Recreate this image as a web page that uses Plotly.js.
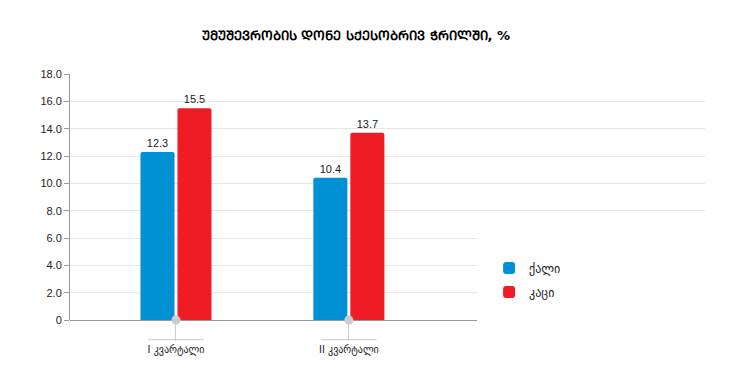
<!DOCTYPE html>
<html>
<head>
<meta charset="utf-8">
<script src="https://cdn.plot.ly/plotly-3.0.1.min.js"></script>
<style>html,body{margin:0;padding:0;background:#fff;}#chart{width:729px;height:367px;}</style>
</head>
<body>
<div id="chart"></div>
<script>
const categories = ["I კვარტალი", "II კვარტალი"];
const seriesNames = ["ქალი", "კაცი"];
const womenValues = [12.3, 10.4];
const menValues = [15.5, 13.7];
const seriesColors = ["#0091d5", "#ee1c25"];
const yTickVals = [0, 2, 4, 6, 8, 10, 12, 14, 16, 18];
const yTickText = ["0", "2.0", "4.0", "6.0", "8.0", "10.0", "12.0", "14.0", "16.0", "18.0"];
const titleText = "ᲣᲛᲣᲨᲔᲕᲠᲝᲑᲘᲡ ᲓᲝᲜᲔ ᲡᲥᲔᲡᲝᲑᲠᲘᲕ ᲭᲠᲘᲚᲨᲘ, %";

const catIdx = categories.map((c, i) => i);
const font = "Liberation Sans, Arial, DejaVu Sans, sans-serif";
const xRange = [-0.613, 3.06];
const toPaper = v => (v - xRange[0]) / (xRange[1] - xRange[0]);

const traces = [
  {type: "bar", name: seriesNames[0], legendgroup: "a", x: catIdx, y: womenValues,
   marker: {color: seriesColors[0]}, text: womenValues.map(v => v.toFixed(1)),
   textposition: "outside", cliponaxis: false,
   textfont: {family: font, size: 11, color: "#222"}, hoverinfo: "none"},
  {type: "bar", name: seriesNames[1], legendgroup: "b", x: catIdx, y: menValues,
   marker: {color: seriesColors[1]}, text: menValues.map(v => v.toFixed(1)),
   textposition: "outside", cliponaxis: false,
   textfont: {family: font, size: 11, color: "#222"}, hoverinfo: "none"},
  {type: "scatter", mode: "markers", x: catIdx, y: catIdx.map(() => 0),
   marker: {color: "#cccccc", size: 9}, cliponaxis: false, showlegend: false, hoverinfo: "none"}
];

const shapes = catIdx.map(i => ({
  type: "line", xref: "paper", yref: "paper", x0: toPaper(i - 0.16), x1: toPaper(i + 0.16),
  y0: -0.08, y1: -0.08, line: {color: "#cccccc", width: 1}
}));
shapes.push({type: "rect", xref: "paper", yref: "paper", x0: 0.641, x1: 1.05,
  y0: -0.03, y1: 0.335, fillcolor: "#ffffff", line: {width: 0}, layer: "above"});

const layout = {
  width: 729, height: 367,
  margin: {l: 70, r: 24, t: 74, b: 47},
  paper_bgcolor: "#ffffff", plot_bgcolor: "#ffffff",
  title: {text: "<b>" + titleText + "</b>", x: 356 / 729, xref: "container", xanchor: "center",
    y: 1 - 35 / 367, yref: "container", yanchor: "middle",
    font: {family: "DejaVu Sans, sans-serif", size: 13, color: "#000"}},
  barmode: "group", bargap: 0.572, bargroupgap: 0.08, barcornerradius: 2,
  xaxis: {range: xRange, tickvals: catIdx, ticktext: categories,
    showgrid: false, zeroline: false, showline: false,
    ticks: "outside", ticklen: 20, tickcolor: "#cccccc", tickwidth: 1,
    tickfont: {family: "DejaVu Sans, sans-serif", size: 10, color: "#222"}, fixedrange: true},
  yaxis: {range: [0, 18], tickvals: yTickVals, ticktext: yTickText,
    showgrid: true, gridcolor: "#e6e6e6", gridwidth: 1,
    zeroline: true, zerolinecolor: "#999999", zerolinewidth: 1,
    showline: true, linecolor: "#999999", linewidth: 1,
    ticks: "outside", ticklen: 5, tickcolor: "#999999",
    tickfont: {family: font, size: 11, color: "#222"}, fixedrange: true},
  legend: {x: 0.66, xanchor: "left", y: 0.27, yanchor: "top", bgcolor: "rgba(0,0,0,0)",
    font: {family: "DejaVu Sans, sans-serif", size: 12, color: "#222"},
    itemwidth: 30, tracegroupgap: 5},
  shapes: shapes,
  showlegend: true
};

Plotly.newPlot("chart", traces, layout, {displayModeBar: false, staticPlot: true});
</script>
</body>
</html>
